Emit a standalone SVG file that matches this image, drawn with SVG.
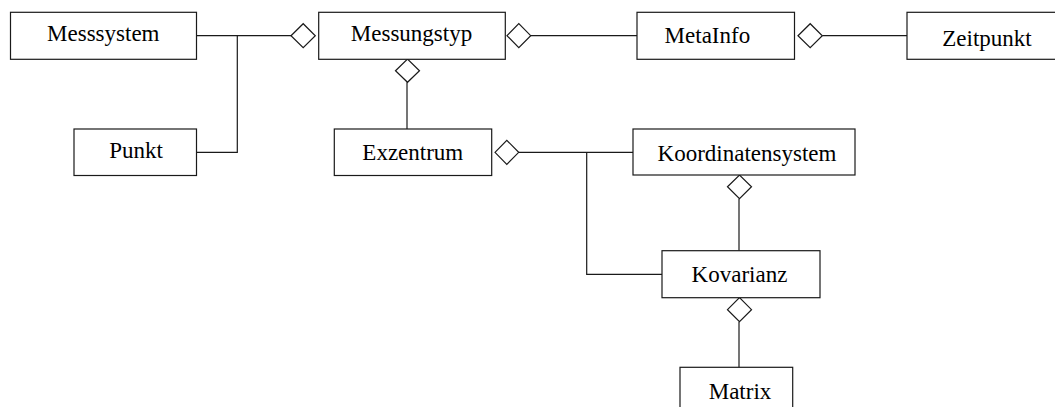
<svg xmlns="http://www.w3.org/2000/svg" width="1055" height="407" viewBox="0 0 1055 407">
  <style>
    .box { fill: #ffffff; stroke: #1a1a1a; stroke-width: 1.2; }
    .lbl { font-family: "Liberation Serif", "Times New Roman", serif; font-size: 23px; fill: #000000; }
    .mid { text-anchor: middle; }
    .edge { fill: none; stroke: #1a1a1a; stroke-width: 1.2; }
    .agg { fill: #ffffff; stroke: #1a1a1a; stroke-width: 1.2; stroke-linejoin: miter; }
  </style>
  <rect width="1055" height="407" fill="#ffffff"/>

  <!-- associations and aggregation diamonds -->
  <g id="connectors">
    <polyline class="edge" points="196.5,35.7 291,35.7"/>
    <polyline class="edge" points="196.5,152.3 237.3,152.3 237.3,35.7"/>
    <polyline class="edge" points="407,82.3 407,129"/>
    <polyline class="edge" points="530.7,35.7 637,35.7"/>
    <polyline class="edge" points="822.3,35.7 907,35.7"/>
    <polyline class="edge" points="518.7,152.3 633,152.3"/>
    <polyline class="edge" points="586.7,152.3 586.7,274.3 662,274.3"/>
    <polyline class="edge" points="739,198.7 739,250.7"/>
    <polyline class="edge" points="739,321.7 739,367.3"/>

    <polygon class="agg" points="291,35.7 303.2,23.7 315.3,35.7 303.2,47.7"/>
    <polygon class="agg" points="395.5,70.7 407.5,59 419.5,70.7 407.5,82.3"/>
    <polygon class="agg" points="507,35.7 518.8,23.7 530.7,35.7 518.8,47.7"/>
    <polygon class="agg" points="798,35.7 810.2,23.7 822.3,35.7 810.2,47.7"/>
    <polygon class="agg" points="495,152.3 506.8,140.3 518.7,152.3 506.8,164.3"/>
    <polygon class="agg" points="727.5,186.8 739.5,175 751.5,186.8 739.5,198.7"/>
    <polygon class="agg" points="727.5,309.7 739.5,297.7 751.5,309.7 739.5,321.7"/>
  </g>

  <g id="node-messsystem">
    <rect class="box" x="10.5" y="12.3" width="186" height="47"/>
    <text class="lbl mid" x="103.3" y="40.7">Messsystem</text>
  </g>
  <g id="node-punkt">
    <rect class="box" x="74" y="129" width="122.5" height="46.5"/>
    <text class="lbl mid" x="136" y="157.7">Punkt</text>
  </g>
  <g id="node-messungstyp">
    <rect class="box" x="318.7" y="12.3" width="186.6" height="47"/>
    <text class="lbl mid" x="411.5" y="40.7">Messungstyp</text>
  </g>
  <g id="node-exzentrum">
    <rect class="box" x="334.3" y="129" width="157.4" height="46.5"/>
    <text class="lbl mid" x="412.8" y="160">Exzentrum</text>
  </g>
  <g id="node-metainfo">
    <rect class="box" x="637" y="12.3" width="157.5" height="47"/>
    <text class="lbl" x="664.6" y="42.7">MetaInfo</text>
  </g>
  <g id="node-zeitpunkt">
    <rect class="box" x="907" y="12.3" width="160" height="47"/>
    <text class="lbl mid" x="987" y="45.7">Zeitpunkt</text>
  </g>
  <g id="node-koordinatensystem">
    <rect class="box" x="633" y="129" width="222" height="46"/>
    <text class="lbl mid" x="747" y="160.7">Koordinatensystem</text>
  </g>
  <g id="node-kovarianz">
    <rect class="box" x="662" y="250.7" width="158" height="47"/>
    <text class="lbl mid" x="739.5" y="281.7">Kovarianz</text>
  </g>
  <g id="node-matrix">
    <rect class="box" x="680" y="367.3" width="112.7" height="50"/>
    <text class="lbl mid" x="740" y="399.3">Matrix</text>
  </g>
</svg>
